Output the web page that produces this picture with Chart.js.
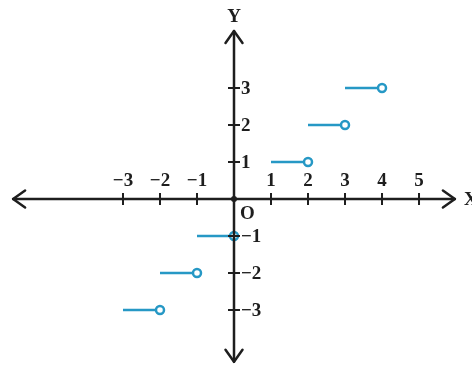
<!DOCTYPE html>
<html>
<head>
<meta charset="utf-8">
<script src="https://cdn.jsdelivr.net/npm/chart.js@4"></script>
<style>
html,body{margin:0;padding:0;background:#fff;}
#wrap{width:472px;height:365px;}
</style>
</head>
<body>
<div id="wrap"><canvas id="c" width="472" height="365"></canvas></div>
<script>
// Step function y = [x] pieces (closed left end, open circle at right end)
const segStart = [-3, -2, -1, 1, 2, 3];
const segEnd   = [-2, -1, 0, 2, 3, 4];
const segY     = [-3, -2, -1, 1, 2, 3];

// Axis tick values and labels
const xTicks = [-3, -2, -1, 1, 2, 3, 4, 5];
const xTickLabels = ['\u22123', '\u22122', '\u22121', '1', '2', '3', '4', '5'];
const yTicks = [3, 2, 1, -1, -2, -3];
const yTickLabels = ['3', '2', '1', '\u22121', '\u22122', '\u22123'];

// Visible window (data units)
const xRange = [-6.324, 6.432];
const yRange = [-4.486, 5.378];
const axisEnds = { xLeft: -5.97, xRight: 5.97, yTop: 4.54, yBottom: -4.40 };

const BLUE = '#2698c5';
const DARK = '#1e1e1e';

const datasets = segStart.map((s, i) => ({
  data: [{ x: s, y: segY[i] }, { x: segEnd[i], y: segY[i] }],
  borderColor: BLUE,
  borderWidth: 2.5,
  pointRadius: [0, 4],
  pointBorderWidth: 2.5,
  pointBorderColor: BLUE,
  pointBackgroundColor: '#ffffff',
  showLine: true,
  fill: false,
  clip: false
}));

const axesPlugin = {
  id: 'axes',
  afterDatasetsDraw(chart) {
    const ctx = chart.ctx;
    const xs = chart.scales.x, ys = chart.scales.y;
    const ox = xs.getPixelForValue(0), oy = ys.getPixelForValue(0);
    const xl = xs.getPixelForValue(axisEnds.xLeft), xr = xs.getPixelForValue(axisEnds.xRight);
    const yt = ys.getPixelForValue(axisEnds.yTop), yb = ys.getPixelForValue(axisEnds.yBottom);
    ctx.save();
    ctx.strokeStyle = DARK;
    ctx.fillStyle = DARK;
    ctx.lineWidth = 2.5;
    ctx.lineCap = 'round';
    ctx.lineJoin = 'round';
    // axis lines
    ctx.beginPath();
    ctx.moveTo(xl, oy); ctx.lineTo(xr, oy);
    ctx.moveTo(ox, yt); ctx.lineTo(ox, yb);
    ctx.stroke();
    // arrowheads
    const a = 12, w = 8.5;
    ctx.beginPath();
    ctx.moveTo(xl + a, oy - w); ctx.lineTo(xl, oy); ctx.lineTo(xl + a, oy + w);
    ctx.moveTo(xr - a, oy - w); ctx.lineTo(xr, oy); ctx.lineTo(xr - a, oy + w);
    ctx.moveTo(ox - w, yt + a); ctx.lineTo(ox, yt); ctx.lineTo(ox + w, yt + a);
    ctx.moveTo(ox - w, yb - a); ctx.lineTo(ox, yb); ctx.lineTo(ox + w, yb - a);
    ctx.stroke();
    // ticks
    ctx.lineWidth = 2;
    ctx.lineCap = 'butt';
    ctx.beginPath();
    xTicks.forEach(v => { const p = xs.getPixelForValue(v); ctx.moveTo(p, oy - 6); ctx.lineTo(p, oy + 6); });
    yTicks.forEach(v => { const p = ys.getPixelForValue(v); ctx.moveTo(ox - 6, p); ctx.lineTo(ox + 6, p); });
    ctx.stroke();
    // origin dot
    ctx.beginPath(); ctx.arc(ox, oy, 3, 0, Math.PI * 2); ctx.fill();
    // labels
    ctx.font = 'bold 19px "Liberation Serif", "DejaVu Serif", serif';
    ctx.textBaseline = 'middle';
    ctx.textAlign = 'center';
    xTicks.forEach((v, i) => ctx.fillText(xTickLabels[i], xs.getPixelForValue(v), oy - 18));
    ctx.textAlign = 'left';
    yTicks.forEach((v, i) => ctx.fillText(yTickLabels[i], ox + 7, ys.getPixelForValue(v) + 1));
    ctx.fillText('O', ox + 6, oy + 15);
    ctx.fillText('X', xr + 9, oy + 1);
    ctx.textAlign = 'center';
    ctx.fillText('Y', ox, yt - 14);
    ctx.restore();
  }
};

new Chart(document.getElementById('c'), {
  type: 'scatter',
  data: { datasets },
  options: {
    responsive: false,
    animation: false,
    layout: { padding: 0, autoPadding: false },
    plugins: { legend: { display: false }, tooltip: { enabled: false } },
    scales: {
      x: { type: 'linear', display: false, min: xRange[0], max: xRange[1] },
      y: { type: 'linear', display: false, min: yRange[0], max: yRange[1] }
    }
  },
  plugins: [axesPlugin]
});
</script>
</body>
</html>
